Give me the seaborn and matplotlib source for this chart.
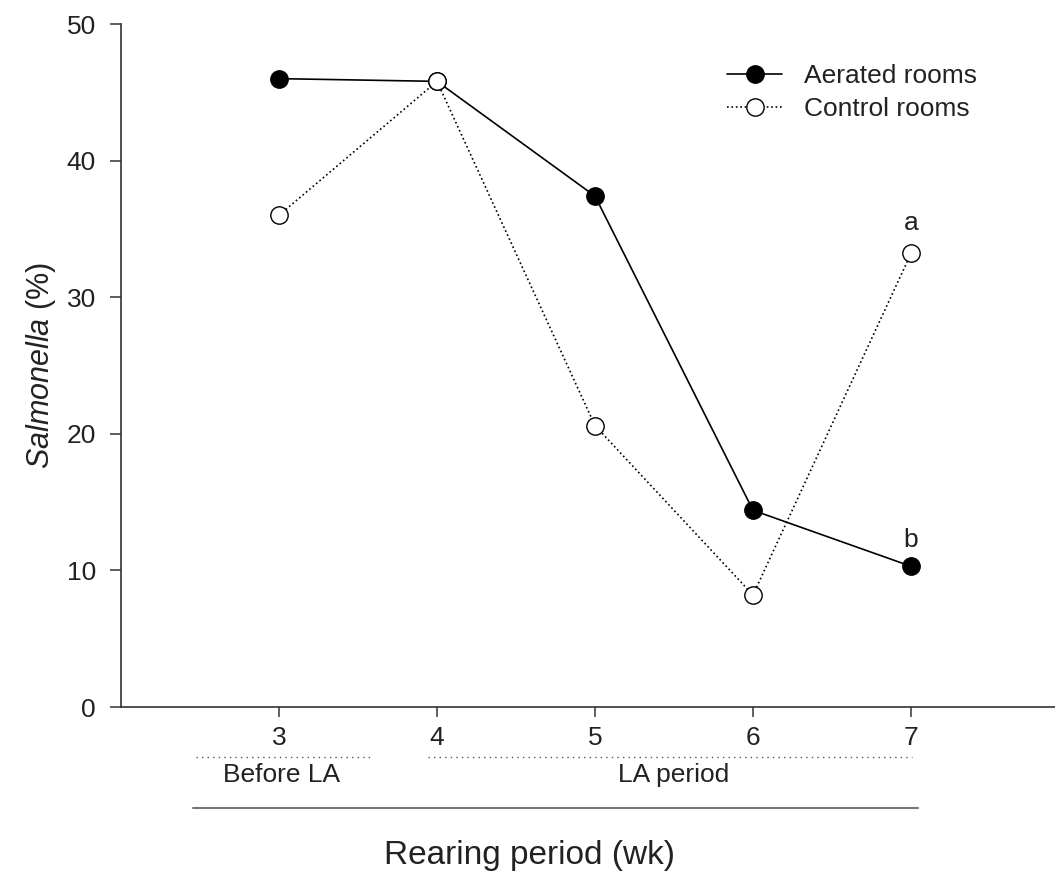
import numpy as np
import pandas as pd
import matplotlib
matplotlib.use('Agg')
import matplotlib.pyplot as plt
import seaborn as sns
from matplotlib.lines import Line2D

weeks = [3, 4, 5, 6, 7]
aerated = [46.0, 45.8, 37.4, 14.4, 10.3]
control = [36.0, 45.8, 20.6, 8.2, 33.2]
series_names = ['Aerated rooms', 'Control rooms']
sig_letters = ['a', 'b']
period_labels = ['Before LA', 'LA period']

sns.set_style('ticks')
plt.rcParams['font.family'] = ['Liberation Sans', 'DejaVu Sans']
plt.rcParams['mathtext.fontset'] = 'custom'
plt.rcParams['mathtext.it'] = 'Liberation Sans:italic'
plt.rcParams['mathtext.rm'] = 'Liberation Sans'

df = pd.DataFrame({'week': weeks, 'aerated': aerated, 'control': control})

fig = plt.figure(figsize=(10.55, 8.71), dpi=100)
ax = fig.add_axes([121 / 1055, 1 - 707 / 871, 934 / 1055, (707 - 24) / 871])

sns.lineplot(data=df, x='week', y='aerated', ax=ax, color='black', lw=1.2,
             marker='o', markersize=12.5, markerfacecolor='black',
             markeredgecolor='black', markeredgewidth=1.0)
sns.lineplot(data=df, x='week', y='control', ax=ax, color='black', lw=1.2,
             linestyle=':', marker='o', markersize=12.5, markerfacecolor='white',
             markeredgecolor='black', markeredgewidth=1.0)

ax.set_xlim(2, 2 + 934 / 158)
ax.set_ylim(0, 50)
ax.set_xticks(weeks)
ax.set_yticks(range(0, 51, 10))
ax.tick_params(axis='x', length=7, width=1.1, pad=7, labelsize=19,
               color='#333333', labelcolor='#222222')
ax.tick_params(axis='y', length=8, width=1.1, pad=10, labelsize=19,
               color='#333333', labelcolor='#222222')
for s in ['top', 'right']:
    ax.spines[s].set_visible(False)
for s in ['left', 'bottom']:
    ax.spines[s].set_linewidth(1.2)
    ax.spines[s].set_color('#333333')

ax.set_xlabel('')
ax.set_ylabel(r'$\it{Salmonella}$ (%)', fontsize=22, labelpad=6, color='#222222')

# significance letters at week 7
ax.annotate(sig_letters[0], (weeks[-1], control[-1]), xytext=(0, 22),
            textcoords='offset points', ha='center', va='center', fontsize=19,
            color='#222222')
ax.annotate(sig_letters[1], (weeks[-1], aerated[-1]), xytext=(0, 19),
            textcoords='offset points', ha='center', va='center', fontsize=19,
            color='#222222')


def fy(py):
    return 1 - py / 871


def fx(px):
    return px / 1055


handles = [
    Line2D([], [], color='black', lw=1.2, marker='o', markersize=12.5,
           markerfacecolor='black', markeredgecolor='black'),
    Line2D([], [], color='black', lw=1.2, ls=':', marker='o', markersize=12.5,
           markerfacecolor='white', markeredgecolor='black'),
]
leg = ax.legend(handles, series_names, loc='upper left',
                bbox_to_anchor=(fx(727), fy(64)), bbox_transform=fig.transFigure,
                frameon=False, fontsize=19, handlelength=2.1, handletextpad=0.8,
                labelspacing=0.36, borderpad=0, borderaxespad=0)
for t in leg.get_texts():
    t.set_color('#222222')

# period annotations below the axis (figure pixel positions)
fig.add_artist(Line2D([fx(196), fx(373)], [fy(757), fy(757)], color='#555555',
                      lw=1.0, ls=(0, (1, 3))))
fig.add_artist(Line2D([fx(428), fx(912)], [fy(757), fy(757)], color='#555555',
                      lw=1.0, ls=(0, (1, 3))))
fig.add_artist(Line2D([fx(193), fx(918)], [fy(808), fy(808)], color='#777777',
                      lw=1.5))
fig.text(fx(282), fy(775), period_labels[0], ha='center', va='center',
         fontsize=19, color='#222222')
fig.text(fx(674), fy(775), period_labels[1], ha='center', va='center',
         fontsize=19, color='#222222')
fig.text(fx(530), fy(855), 'Rearing period (wk)', ha='center', va='center',
         fontsize=24, color='#222222')

fig.savefig('out.png', dpi=100)
